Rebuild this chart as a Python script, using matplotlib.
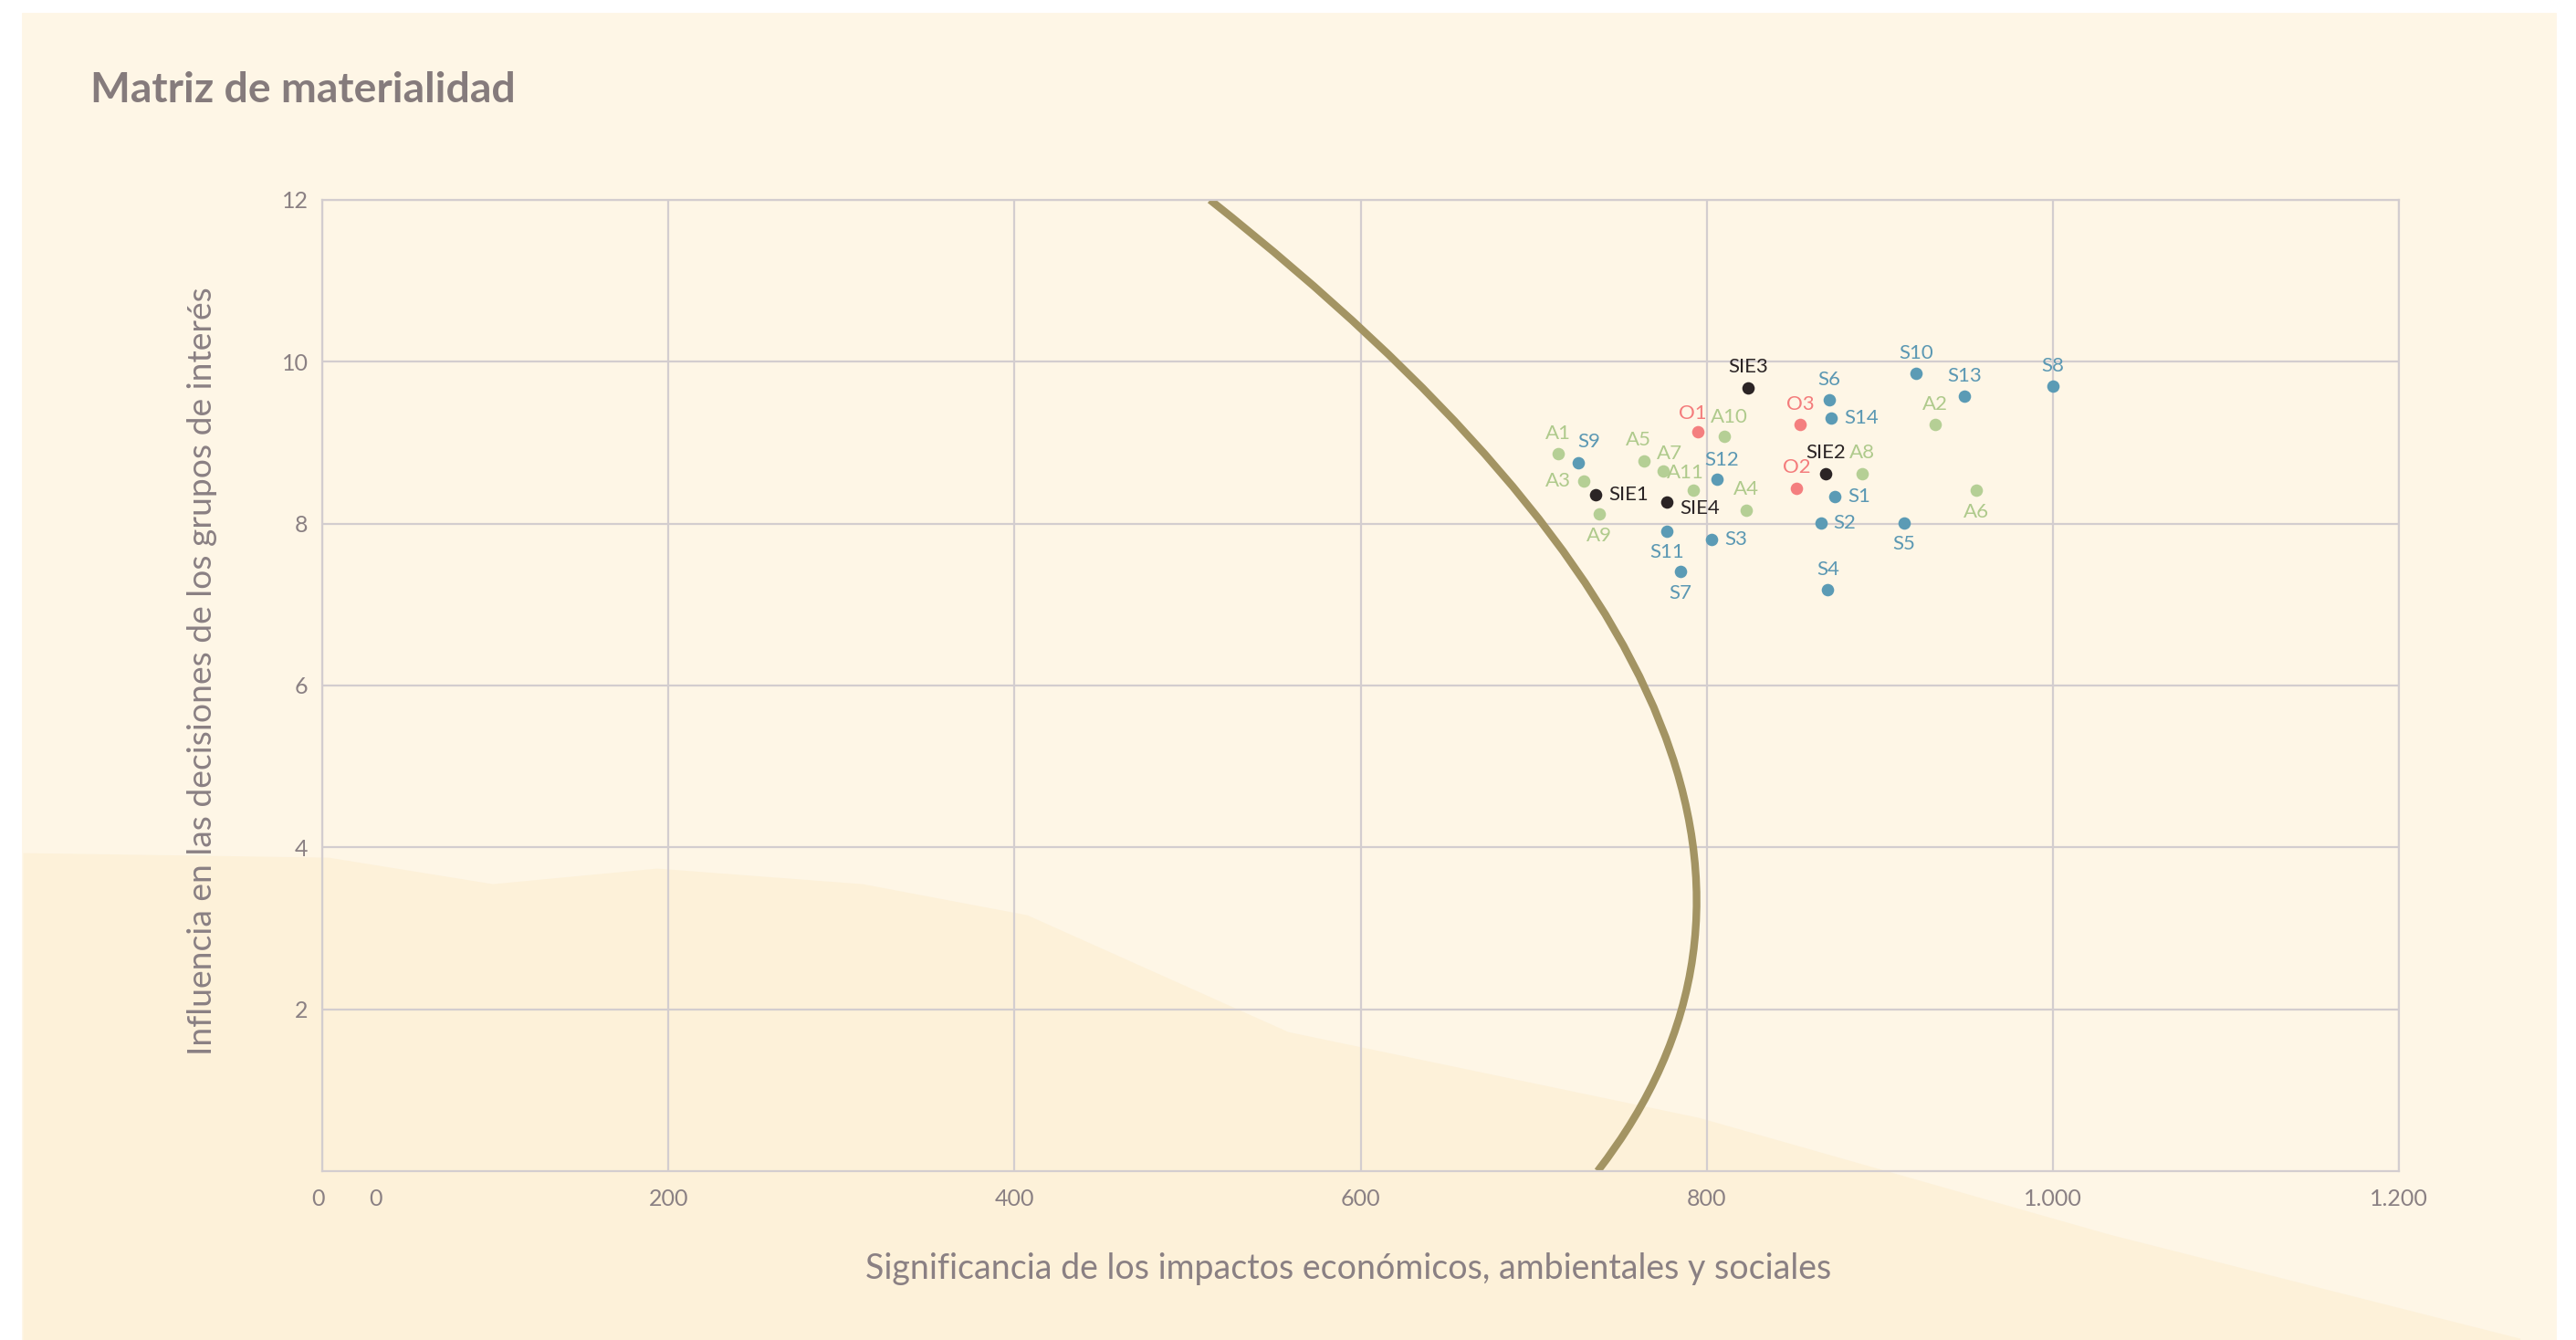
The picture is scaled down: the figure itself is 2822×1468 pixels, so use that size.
import matplotlib.pyplot as plt
from matplotlib.patches import Rectangle, Polygon, PathPatch
from matplotlib.path import Path
from matplotlib.transforms import offset_copy, ScaledTranslation

plt.rcParams['font.family'] = ['Lato', 'DejaVu Sans']

# --- data -------------------------------------------------------------
# social topics
s_names = ["S1", "S2", "S3", "S4", "S5", "S6", "S7", "S8", "S9", "S10", "S11", "S12", "S13", "S14"]
s_x = [874, 866, 803, 870, 914, 871, 785, 1000, 726, 921, 777, 806, 949, 872]
s_y = [8.33, 8.01, 7.80, 7.18, 8.01, 9.53, 7.41, 9.70, 8.75, 9.86, 7.91, 8.55, 9.57, 9.31]

# environmental topics
a_names = ["A1", "A2", "A3", "A4", "A5", "A6", "A7", "A8", "A9", "A10", "A11"]
a_x = [714, 932, 729, 823, 764, 956, 775, 890, 738, 810, 792]
a_y = [8.86, 9.22, 8.53, 8.17, 8.77, 8.41, 8.65, 8.62, 8.12, 9.08, 8.41]

# other topics
o_names = ["O1", "O2", "O3"]
o_x = [795, 852, 854]
o_y = [9.13, 8.44, 9.22]

# economic topics
sie_names = ["SIE1", "SIE2", "SIE3", "SIE4"]
sie_x = [736, 869, 824, 777]
sie_y = [8.36, 8.62, 9.68, 8.27]

# materiality threshold (quadratic bezier: start, control, end)
thr_x = [513, 921, 737]
thr_y = [12, 5.09, 0]

x_ticks = [0, 200, 400, 600, 800, 1000, 1200]
x_ticklabels = ["0", "200", "400", "600", "800", "1.000", "1.200"]
y_ticks = [2, 4, 6, 8, 10, 12]

# --- label placement ----------------------------------------------------
place = {
    "S1": "e", "S2": "e", "S3": "e", "S14": "e", "SIE1": "e",
    "S5": "s", "S7": "s", "S11": "s", "A6": "s", "A9": "s",
    "A3": "w", "S9": "ne", "SIE4": "se", "O1": "nw", "A10": "nne",
    "A5": "nw2", "A7": "nne2", "A11": "nw3", "S12": "nne",
}
offsets = {
    "n": (0, 8, "center"), "s": (0, -8.5, "center"),
    "e": (5, 0, "left"), "w": (-5, 0, "right"),
    "ne": (4, 8.5, "center"), "se": (5, -2.5, "left"),
    "nw": (-2, 7.5, "center"), "nne": (2, 7.5, "center"),
    "nw2": (-2.5, 8.5, "center"), "nne2": (2.5, 7, "center"),
    "nw3": (-3, 7, "center"),
}

TEXT = "#8a8083"
GRID = "#d3cdcf"

fig = plt.figure(figsize=(14.11, 7.34), dpi=200, facecolor="white")

# paper background
fig.patches.append(Rectangle((25 / 2822, 0), 2774 / 2822, 1 - 15 / 1468,
                             transform=fig.transFigure, color="#fef6e6", zorder=-10))
band = [(27, 936), (360, 941), (540, 970), (720, 953), (945, 970), (1125, 1004),
        (1411, 1132), (1861, 1226), (2311, 1354), (2761, 1468), (27, 1468)]
fig.patches.append(Polygon([(x / 2822, 1 - y / 1468) for x, y in band], closed=True,
                           transform=fig.transFigure, color="#fdf1d9", zorder=-9))

ax = fig.add_axes([353 / 2822, 1 - 1283 / 1468, 2275 / 2822, 1064 / 1468])
ax.set_facecolor("none")
ax.set_xlim(0, 1200)
ax.set_ylim(0, 12)

ax.set_xticks(x_ticks)
ax.set_xticklabels(x_ticklabels)
ax.set_yticks(y_ticks)
ax.set_yticklabels([str(v) for v in y_ticks])
ax.tick_params(axis="x", length=0, pad=7, labelsize=9, labelcolor=TEXT)
ax.tick_params(axis="y", length=0, pad=5.5, labelsize=9, labelcolor=TEXT)
first = ax.get_xticklabels()[0]
first.set_transform(first.get_transform() + ScaledTranslation(-4 / 200, 0, fig.dpi_scale_trans))
ax.grid(True, color=GRID, linewidth=0.8)
ax.set_axisbelow(True)
for sp in ax.spines.values():
    sp.set_color(GRID)
    sp.set_linewidth(0.8)

# stray zero next to the origin
ax.text(31, 0, "0", transform=offset_copy(ax.transData, fig=fig, y=-7, units="points"),
        ha="center", va="top", fontsize=9, color=TEXT)

# threshold curve
curve = Path(list(zip(thr_x, thr_y)), [Path.MOVETO, Path.CURVE3, Path.CURVE3])
ax.add_patch(PathPatch(curve, fill=False, edgecolor="#a39463", linewidth=3, zorder=2))

groups = [
    (s_names, s_x, s_y, "#5b9bb5", "#5b98b3"),
    (a_names, a_x, a_y, "#b5cf95", "#afca8c"),
    (o_names, o_x, o_y, "#f47f7f", "#f47c7c"),
    (sie_names, sie_x, sie_y, "#2b2425", "#2b2425"),
]
for names, xs, ys, col, tcol in groups:
    ax.scatter(xs, ys, s=24, color=col, zorder=4, linewidths=0)
    for n, x, y in zip(names, xs, ys):
        dx, dy, ha = offsets[place.get(n, "n")]
        ax.annotate(n, (x, y), xytext=(dx, dy), textcoords="offset points",
                    ha=ha, va="center", fontsize=8, color=tcol, zorder=5)

fig.text(99 / 2822, 1 - 112 / 1468, "Matriz de materialidad", fontsize=16.7,
         fontweight="bold", color="#857b7c", ha="left", va="baseline")
fig.text(1477 / 2822, 1 - 1390 / 1468,
         "Significancia de los impactos económicos, ambientales y sociales",
         fontsize=13.5, color=TEXT, ha="center", va="center")
fig.text(222 / 2822, 1 - 735 / 1468,
         "Influencia en las decisiones de los grupos de interés",
         fontsize=13.4, color=TEXT, ha="center", va="center", rotation=90)

fig.savefig("out.png", dpi=200, facecolor="white")
